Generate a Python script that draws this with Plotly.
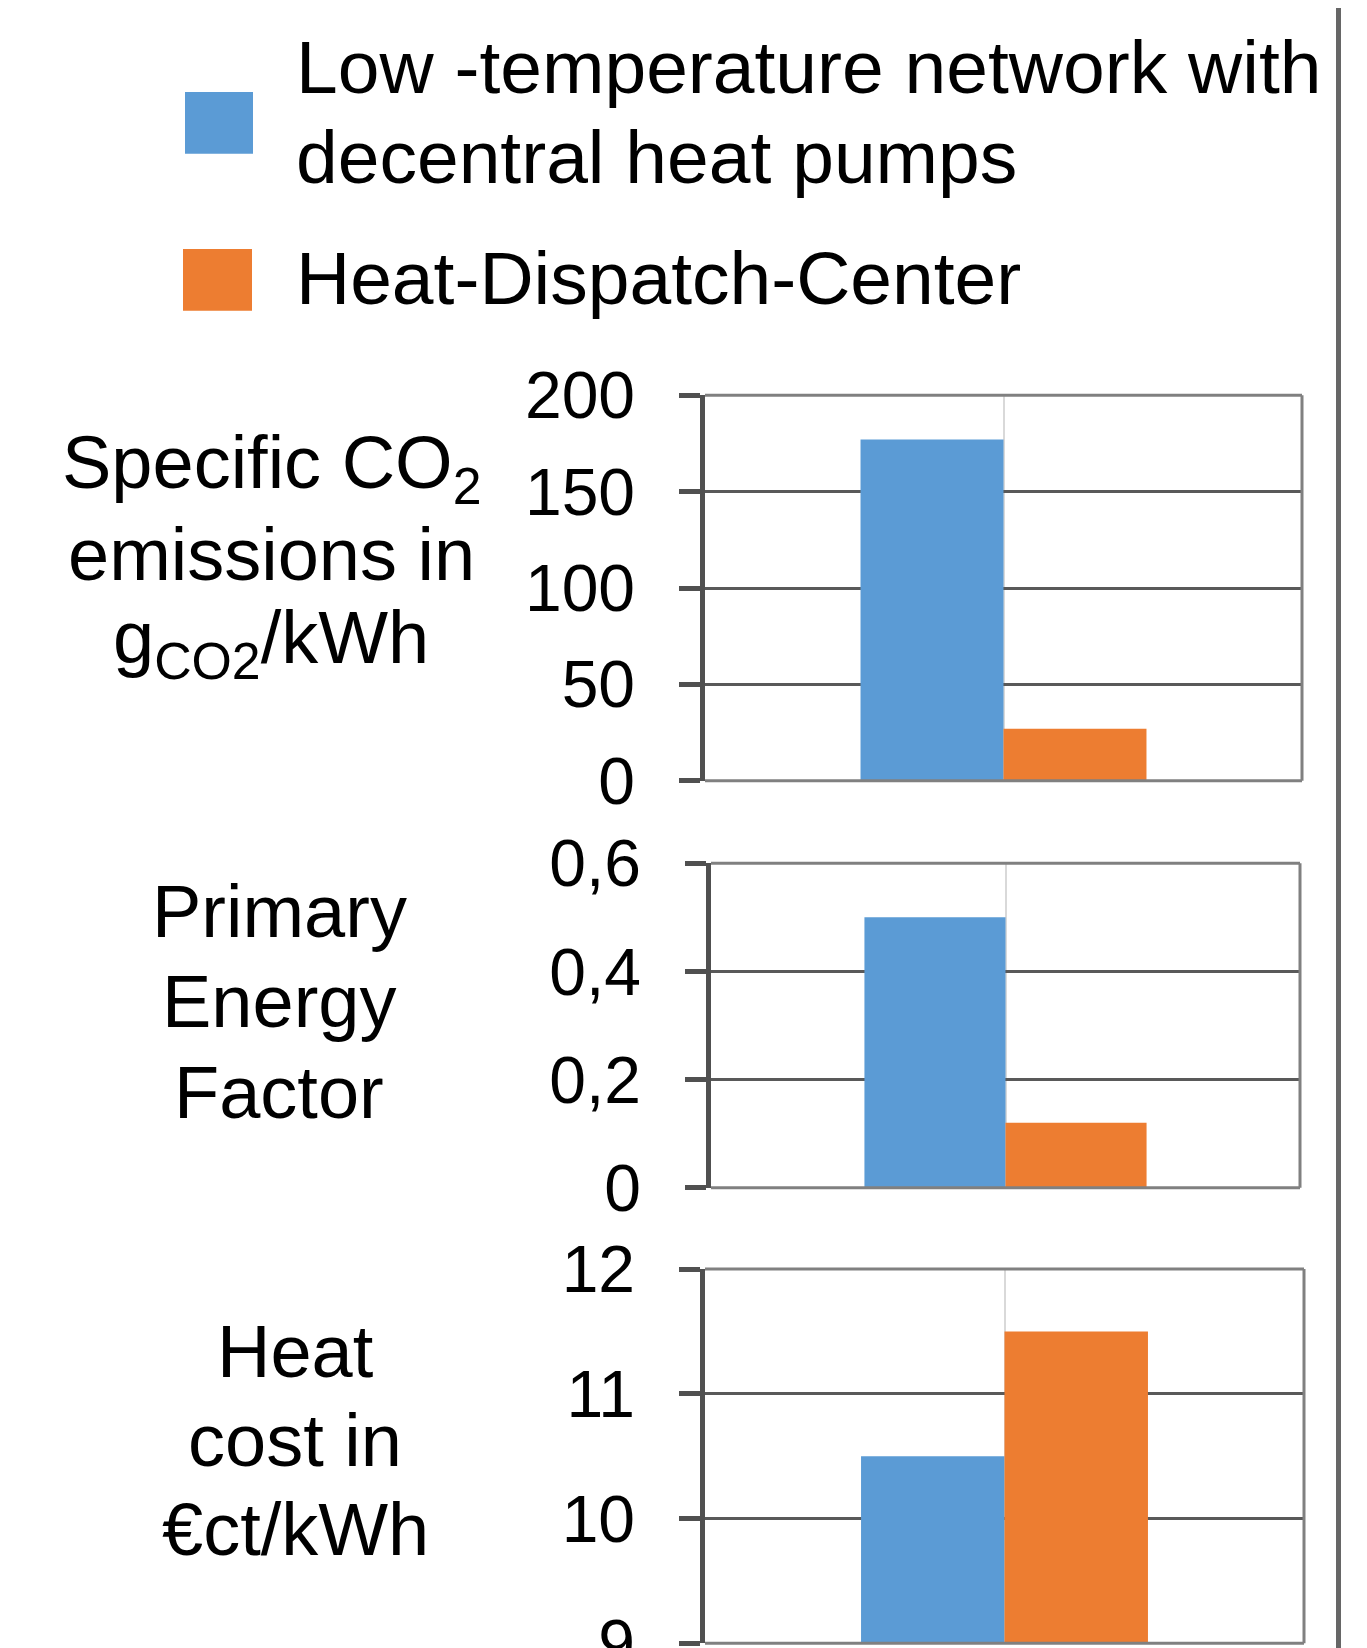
import plotly.graph_objects as go

W, H = 1359, 1640          # figure size (page has 8px body margin)
OFF = 8
FONT = "Liberation Sans, Arial, sans-serif"

# ---------------- data ----------------
category = ["District heating concept"]
series_names = ["Low -temperature network with decentral heat pumps", "Heat-Dispatch-Center"]
legend_lines = [["Low -temperature network with", "decentral heat pumps"], ["Heat-Dispatch-Center"]]
series_colors = ["#5B9BD5", "#ED7D31"]

co2_values = [177, 27]          # g_CO2/kWh
pef_values = [0.50, 0.12]       # primary energy factor
cost_values = [10.5, 11.5]      # €ct/kWh

co2_tickvals = [0, 50, 100, 150, 200]
co2_ticktext = ["0", "50", "100", "150", "200"]
pef_tickvals = [0, 0.2, 0.4, 0.6]
pef_ticktext = ["0", "0,2", "0,4", "0,6"]
cost_tickvals = [9, 10, 11, 12]
cost_ticktext = ["9", "10", "11", "12"]

panel_titles = [
    ["Specific CO<sub>2</sub>", "emissions in", "g<sub>CO2</sub>/kWh"],
    ["Primary", "Energy", "Factor"],
    ["Heat", "cost in", "€ct/kWh"],
]

# ---------------- layout geometry (page pixels) ----------------
panels = [
    dict(values=co2_values, tv=co2_tickvals, tt=co2_ticktext, rng=[0, 200],
         x=(705, 1302), y=(395.3, 780.7), tx=271, ty=[494, 581.5, 670]),
    dict(values=pef_values, tv=pef_tickvals, tt=pef_ticktext, rng=[0, 0.6],
         x=(711, 1300), y=(863.3, 1187.7), tx=279, ty=[938, 1027.5, 1119]),
    dict(values=cost_values, tv=cost_tickvals, tt=cost_ticktext, rng=[9, 12],
         x=(705, 1304), y=(1269, 1643.3), tx=295, ty=[1377.5, 1466.5, 1556]),
]


def fx(px):
    return (px - OFF) / W


def fy(py):
    return 1 - (py - OFF) / H


fig = go.Figure()
shapes = []
annotations = []
layout_axes = {}

for i, p in enumerate(panels):
    n = "" if i == 0 else str(i + 1)
    for s in range(2):
        fig.add_trace(go.Bar(
            x=category, y=[p["values"][s]], name=series_names[s],
            marker=dict(color=series_colors[s], line=dict(width=0)),
            xaxis="x" + n, yaxis="y" + n, showlegend=False,
            offsetgroup=str(s),
        ))
    layout_axes["xaxis" + n] = dict(
        domain=[fx(p["x"][0]), fx(p["x"][1])], anchor="y" + n, type="category",
        range=[-0.5, 0.5], showticklabels=False, ticks="", showline=False,
        zeroline=False, showgrid=True, gridcolor="#d9d9d9", gridwidth=2,
        automargin=False,
    )
    layout_axes["yaxis" + n] = dict(
        domain=[fy(p["y"][1]), fy(p["y"][0])], anchor="x" + n, range=p["rng"],
        tickmode="array", tickvals=p["tv"], ticktext=p["tt"],
        ticks="outside", ticklen=21, tickwidth=4.5, tickcolor="#505050",
        showline=True, linecolor="#505050", linewidth=4.5,
        showgrid=True, gridcolor="#595959", gridwidth=3, zeroline=False,
        tickfont=dict(family=FONT, size=66, color="black"),
        ticklabelstandoff=31, automargin=False, ticklabeloverflow="allow",
    )
    xr, yr = "x%s domain" % n, "y%s domain" % n
    for (x0, y0, x1, y1) in [(0, 1, 1, 1), (1, 0, 1, 1), (0, 0, 1, 0)]:
        shapes.append(dict(type="line", xref=xr, yref=yr, x0=x0, y0=y0, x1=x1, y1=y1,
                           line=dict(color="#808080", width=3), layer="above"))
    for j, line in enumerate(panel_titles[i]):
        annotations.append(dict(
            text=line, xref="paper", yref="paper", x=fx(p["tx"]), y=fy(p["ty"][j] - 26.5),
            xanchor="center", yanchor="middle", showarrow=False,
            font=dict(family=FONT, size=74, color="black"),
        ))

# legend (drawn manually to match the large swatches)
legend_boxes = [(185, 92, 253, 153.7), (183, 249, 252, 310.7)]
legend_baselines = [[94.3, 184], [305]]
for s in range(2):
    x0, y0, x1, y1 = legend_boxes[s]
    shapes.append(dict(type="rect", xref="paper", yref="paper",
                       x0=fx(x0), x1=fx(x1), y0=fy(y1), y1=fy(y0),
                       fillcolor=series_colors[s], line=dict(width=0)))
    for line, bl in zip(legend_lines[s], legend_baselines[s]):
        annotations.append(dict(
            text=line, xref="paper", yref="paper", x=fx(294), y=fy(bl - 27),
            xanchor="left", yanchor="middle", showarrow=False,
            font=dict(family=FONT, size=75, color="black"),
        ))

# right frame line of the original figure
shapes.append(dict(type="line", xref="paper", yref="paper", x0=fx(1338.5), x1=fx(1338.5),
                   y0=0, y1=1.01, line=dict(color="#666666", width=5)))

fig.update_layout(
    width=W, height=H, margin=dict(l=0, r=0, t=0, b=0, autoexpand=False),
    paper_bgcolor="white", plot_bgcolor="white",
    barmode="group", bargap=0.521, bargroupgap=0,
    shapes=shapes, annotations=annotations, showlegend=False,
    font=dict(family=FONT, color="black"),
    **layout_axes,
)

fig.write_html("out.html")
